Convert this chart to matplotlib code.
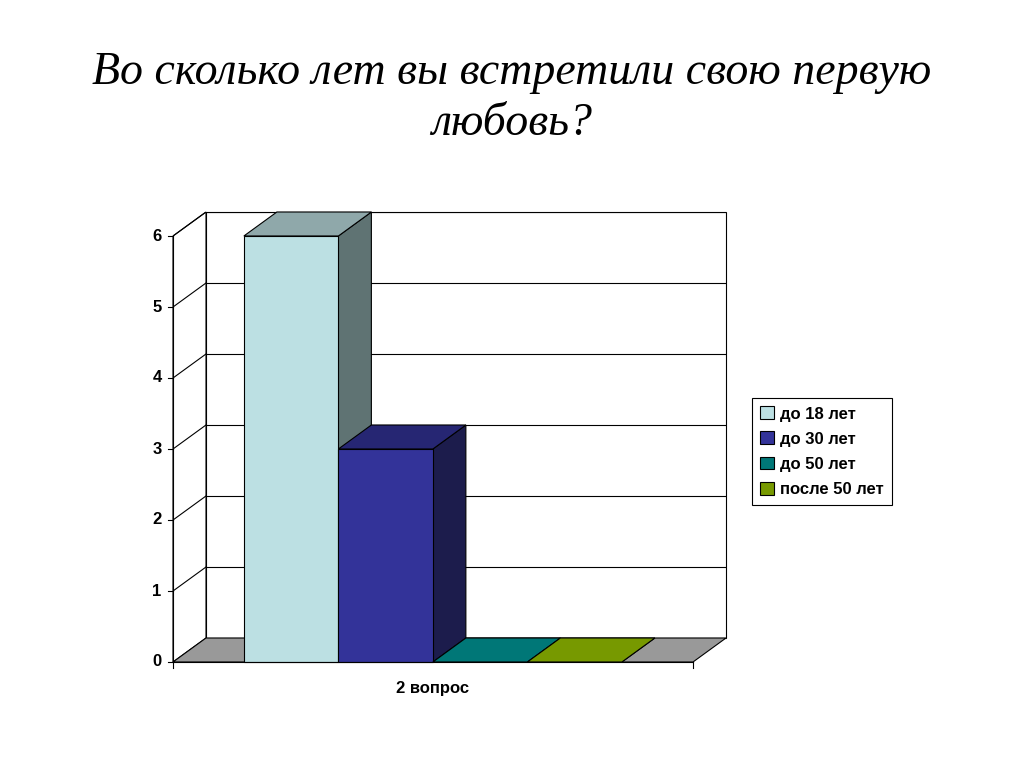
import matplotlib
matplotlib.use("Agg")
import matplotlib.pyplot as plt
from matplotlib.patches import Polygon, Patch

categories = ["до 18 лет", "до 30 лет", "до 50 лет", "после 50 лет"]
values = [6, 3, 0, 0]
yticks = [0, 1, 2, 3, 4, 5, 6]
xlabel = "2 вопрос"
title = "Во сколько лет вы встретили свою первую\nлюбовь?"
front = ["#BCE0E3", "#333399", "#007777", "#779900"]
side = ["#5F7373", "#1C1C4C", "#004040", "#405000"]
top = ["#8FA8AA", "#262673", "#007777", "#779900"]

W, H = 1024, 767
fig = plt.figure(figsize=(W/100, H/100), dpi=100)
ax = fig.add_axes([173/W, 1-662/H, (726-173)/W, (662-212)/H])
ax.set_xlim(0, (726-173)/94.5)
ax.set_ylim(0, (662-212)/71)
ax.axis("off")
dX, dY = 33/94.5, 24/71
Xend = 520/94.5
ymax = 6

def poly(pts, fc, ec="black", lw=0.8, z=1):
    ax.add_patch(Polygon(pts, closed=True, facecolor=fc, edgecolor=ec, lw=lw, zorder=z, clip_on=False))

poly([(dX, dY), (Xend+dX, dY), (Xend+dX, ymax+dY), (dX, ymax+dY)], "white")
poly([(0, 0), (dX, dY), (dX, ymax+dY), (0, ymax)], "white")
for t in yticks[1:]:
    ax.plot([dX, Xend+dX], [t+dY, t+dY], color="black", lw=0.8, zorder=2)
    ax.plot([0, dX], [t, t+dY], color="black", lw=0.8, zorder=2)
poly([(0, 0), (Xend, 0), (Xend+dX, dY), (dX, dY)], "#999999", z=3)

x0 = 0.75
for i, v in enumerate(values):
    xl, xr = x0+i, x0+i+1
    poly([(xr, 0), (xr+dX, dY), (xr+dX, v+dY), (xr, v)], side[i], z=4)
    poly([(xl, v), (xr, v), (xr+dX, v+dY), (xl+dX, v+dY)], top[i], z=4)
    if v > 0:
        poly([(xl, 0), (xr, 0), (xr, v), (xl, v)], front[i], z=4)

ax.plot([0, 0], [0, ymax], color="black", lw=0.8, zorder=5, clip_on=False)
ax.plot([0, Xend], [0, 0], color="black", lw=0.8, zorder=5, clip_on=False)
for t in yticks:
    ax.plot([-5/94.5, 0], [t, t], color="black", lw=0.8, clip_on=False)
    ax.text(-16/94.5, t, str(t), ha="center", va="center", fontsize=12, fontweight="bold", family="Liberation Sans")
for xx in [0, Xend]:
    ax.plot([xx, xx], [0, -6/71], color="black", lw=0.8, clip_on=False)
ax.text(Xend/2, -26/71, xlabel, ha="center", va="center", fontsize=12, fontweight="bold", family="Liberation Sans")

fig.text(512/W, 1-98/H, title, ha="center", va="center", fontsize=33, style="italic", family="Liberation Serif", linespacing=1.25)

handles = [Patch(facecolor=c, edgecolor="black", lw=0.8) for c in front]
leg = fig.legend(handles, categories, loc="upper left", bbox_to_anchor=(752/W, 1-398/H),
                 borderaxespad=0, fancybox=False, edgecolor="black", framealpha=1,
                 prop={"family": "Liberation Sans", "weight": "bold", "size": 12},
                 handlelength=0.8, handleheight=0.8, handletextpad=0.4, labelspacing=0.6,
                 borderpad=0.5)
leg.get_frame().set_linewidth(0.8)
fig.savefig("out.png", dpi=100)
